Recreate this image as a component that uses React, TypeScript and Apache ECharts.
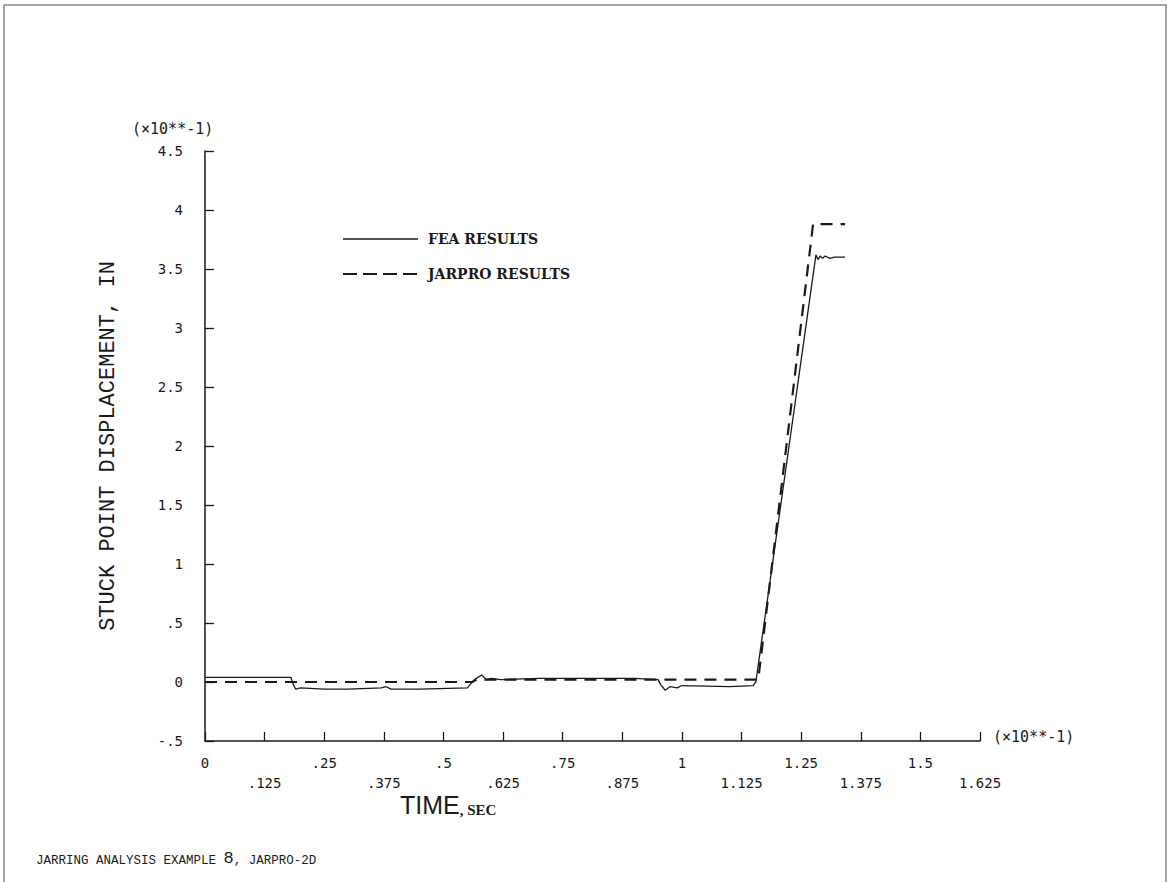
import React, { useEffect, useRef } from "react";
import * as echarts from "echarts";

// Time in units of 10**-1 sec, displacement in units of 10**-1 in
const feaTime = [0, 0.18, 0.185, 0.19, 0.2, 0.25, 0.3, 0.37, 0.38, 0.39, 0.45, 0.55, 0.565, 0.58, 0.59, 0.6, 0.62, 0.7, 0.8, 0.9, 0.95, 0.955, 0.965, 0.975, 0.99, 1.0, 1.1, 1.149, 1.155, 1.162, 1.281, 1.285, 1.29, 1.295, 1.3, 1.31, 1.32, 1.342];
const feaValue = [0.04, 0.04, -0.02, -0.06, -0.05, -0.06, -0.06, -0.05, -0.04, -0.06, -0.06, -0.05, 0.02, 0.06, 0.02, 0.03, 0.02, 0.03, 0.03, 0.03, 0.02, -0.02, -0.07, -0.04, -0.05, -0.03, -0.04, -0.03, 0.0, 0.2, 3.62, 3.58, 3.61, 3.59, 3.61, 3.59, 3.6, 3.6];

const jarTime = [0, 0.56, 0.57, 1.16, 1.275, 1.342];
const jarValue = [0.0, 0.0, 0.02, 0.02, 3.88, 3.88];

const xTickLabels = ["0", ".125", ".25", ".375", ".5", ".625", ".75", ".875", "1", "1.125", "1.25", "1.375", "1.5", "1.625"];
const yTickLabels = ["-.5", "0", ".5", "1", "1.5", "2", "2.5", "3", "3.5", "4", "4.5"];

const seriesNames = ["FEA RESULTS", "JARPRO RESULTS"];

export default function App() {
  const ref = useRef<HTMLDivElement>(null);

  useEffect(() => {
    if (!ref.current) return;
    const chart = echarts.init(ref.current, null, { renderer: "svg" });
    const ink = "#1a1a1a";
    const tickFont = "DejaVu Sans Mono";
    const typeFont = "Liberation Mono";
    const legendText = {
      fontFamily: "DejaVu Serif",
      fontWeight: "bold",
      fontSize: 14,
      fill: ink,
      verticalAlign: "middle",
    };

    const option: any = {
      animation: false,
      backgroundColor: "#ffffff",
      grid: { left: 205, right: 190, top: 151, bottom: 141, containLabel: false },
      xAxis: {
        type: "value",
        min: 0,
        max: 1.625,
        interval: 0.125,
        axisLine: { show: true, onZero: false, lineStyle: { color: ink, width: 1.5 } },
        axisTick: { show: true, inside: true, length: 9, lineStyle: { color: ink, width: 1.3 } },
        splitLine: { show: false },
        axisLabel: {
          margin: 12,
          fontFamily: tickFont,
          fontSize: 14,
          lineHeight: 20,
          color: ink,
          formatter: (v: number) => {
            const i = Math.round(v / 0.125);
            const s = xTickLabels[i] ?? "";
            return i % 2 ? "\n" + s : s;
          },
        },
      },
      yAxis: {
        type: "value",
        min: -0.5,
        max: 4.5,
        interval: 0.5,
        name: "STUCK POINT DISPLACEMENT, IN",
        nameLocation: "middle",
        nameRotate: 90,
        nameGap: 86,
        nameTextStyle: { fontFamily: typeFont, fontSize: 22, color: ink },
        axisLine: { show: true, onZero: false, lineStyle: { color: ink, width: 1.5 } },
        axisTick: { show: true, inside: true, length: 9, lineStyle: { color: ink, width: 1.3 } },
        splitLine: { show: false },
        axisLabel: {
          margin: 22,
          fontFamily: tickFont,
          fontSize: 14,
          color: ink,
          formatter: (v: number) => yTickLabels[Math.round((v + 0.5) / 0.5)] ?? "",
        },
      },
      series: [
        {
          name: seriesNames[0],
          type: "line",
          symbol: "none",
          showSymbol: false,
          color: ink,
          lineStyle: { color: ink, width: 1.3, type: "solid" },
          data: feaTime.map((t, i) => [t, feaValue[i]]),
        },
        {
          name: seriesNames[1],
          type: "line",
          symbol: "none",
          showSymbol: false,
          color: ink,
          lineStyle: { color: ink, width: 2.2, type: [12, 8] },
          data: jarTime.map((t, i) => [t, jarValue[i]]),
        },
      ],
      graphic: [
        {
          type: "rect",
          shape: { x: 4, y: 5, width: 1162, height: 900 },
          style: { fill: "none", stroke: "#888", lineWidth: 1.5 },
          silent: true,
        },
        // legend (drawn by hand so the keys are plain lines)
        {
          type: "line",
          shape: { x1: 343, y1: 239, x2: 418, y2: 239 },
          style: { stroke: ink, lineWidth: 1.5 },
        },
        {
          type: "text",
          x: 428,
          y: 239,
          style: { ...legendText, text: seriesNames[0] },
        },
        {
          type: "line",
          shape: { x1: 343, y1: 274, x2: 418, y2: 274 },
          style: { stroke: ink, lineWidth: 2.2, lineDash: [14, 6] },
        },
        {
          type: "text",
          x: 428,
          y: 274,
          style: { ...legendText, text: seriesNames[1] },
        },
        {
          type: "text",
          left: 132,
          top: 121,
          style: { text: "(×10**-1)", fontFamily: tickFont, fontSize: 15, fill: ink },
        },
        {
          type: "text",
          left: 993,
          top: 729,
          style: { text: "(×10**-1)", fontFamily: tickFont, fontSize: 15, fill: ink },
        },
        {
          type: "text",
          left: 400,
          top: 792,
          style: {
            text: "{a|TIME}{b|, SEC}",
            rich: {
              a: { fontFamily: "Liberation Sans", fontWeight: "normal", fontSize: 25, fill: ink, verticalAlign: "bottom" },
              b: { fontFamily: "Liberation Serif", fontWeight: "bold", fontSize: 15, fill: ink, verticalAlign: "bottom" },
            },
          },
        },
        {
          type: "text",
          left: 36,
          top: 850,
          style: {
            text: "{a|JARRING ANALYSIS EXAMPLE }{b|8}{a|, JARPRO-2D}",
            rich: {
              a: { fontFamily: typeFont, fontSize: 12.5, fill: ink, verticalAlign: "bottom" },
              b: { fontFamily: typeFont, fontSize: 17, fill: ink, verticalAlign: "bottom" },
            },
          },
        },
      ],
    };

    chart.setOption(option);
    return () => chart.dispose();
  }, []);

  return (
    <div
      ref={ref}
      style={{ position: "fixed", left: 0, top: 0, width: 1170, height: 882, background: "#fff" }}
    />
  );
}
